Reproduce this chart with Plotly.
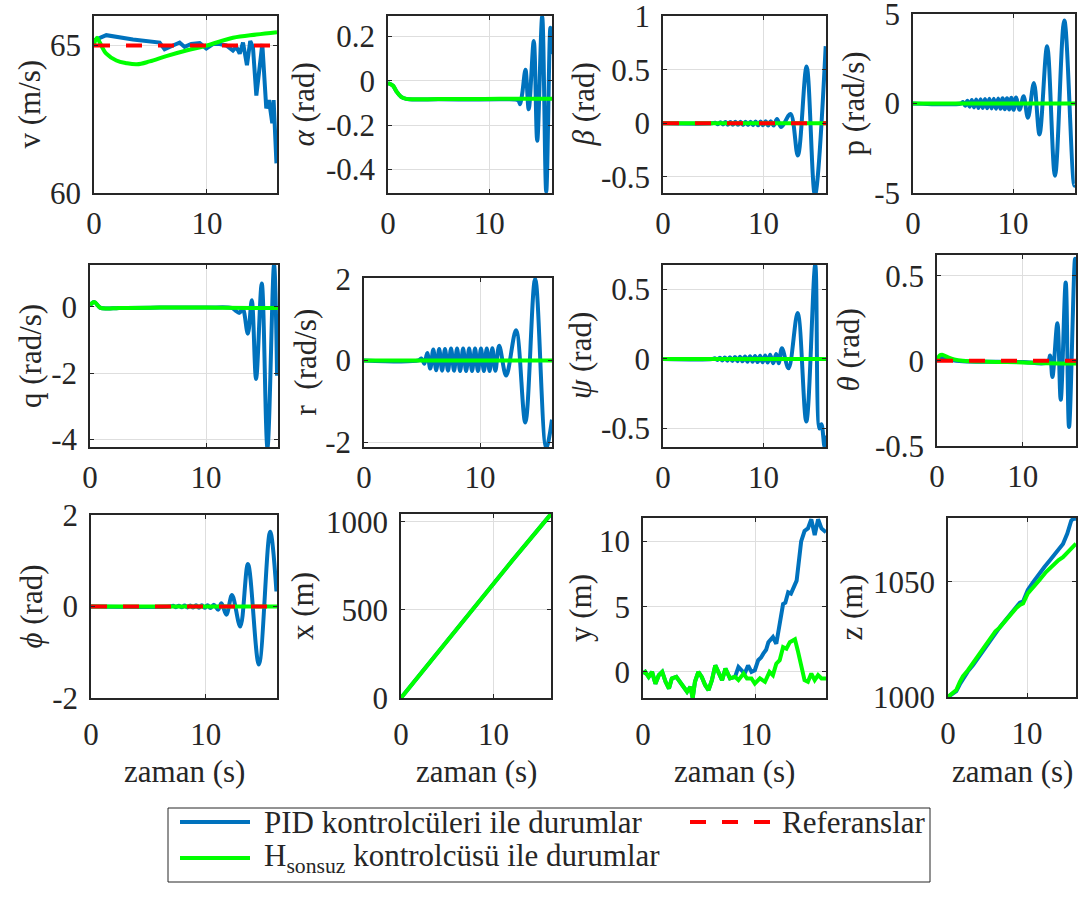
import plotly.graph_objects as go

W, H = 1084, 900
BLUE, GREEN, RED = "#0072BD", "#00FF00", "#FF0000"
INK = "#262626"
GRID = "#dedede"
FONT = "Liberation Serif"
FS = 31
T_END = 16.2

# ---------------- state histories: (time [s], value) ----------------
# airspeed v (m/s)
v_pid = [(0, 65.17), (1.09, 65.35), (3.45, 65.2), (5.81, 65.1), (6.25, 64.87), (7.0, 65.0),
         (7.58, 65.1), (8.02, 64.95), (8.61, 65.05), (9.35, 65.08), (9.94, 64.9), (10.53, 65.05),
         (11.12, 65.05), (11.71, 65.0), (12.3, 64.83), (12.6, 64.95), (12.9, 64.72), (13.19, 65.1),
         (13.54, 64.33), (13.83, 65.15), (14.07, 64.95), (14.37, 63.3), (14.66, 64.3), (14.9, 65.05),
         (15.25, 62.87), (15.49, 63.15), (15.78, 62.36), (15.9, 63.15), (16.15, 61.0)]
v_hinf = [(0, 65.05), (0.27, 65.26), (0.5, 65.11), (1.09, 64.72), (1.98, 64.49), (2.86, 64.4),
          (3.8, 64.36), (4.93, 64.46), (6.4, 64.64), (8.17, 64.83), (10.0, 65.0), (12.3, 65.26),
          (14.37, 65.37), (16.2, 65.45)]
v_ref = 65

# angle of attack alpha (rad)
alpha_pid = [(0, -0.01), (0.5, -0.022), (0.83, -0.047), (1.3, -0.072), (1.8, -0.081), (2.5, -0.084),
             (5, -0.083), (8, -0.084), (11, -0.083), (12.6, -0.084), (12.9, -0.09), (13.05, -0.105),
             (13.25, -0.06), (13.58, 0.05), (13.9, -0.128), (14.4, 0.18), (14.74, -0.27), (15.23, 0.29),
             (15.63, -0.50), (16.04, 0.24), (16.2, 0.12)]
alpha_hinf = [(0, -0.01), (0.5, -0.022), (0.83, -0.047), (1.3, -0.072), (1.8, -0.081), (2.5, -0.083),
              (5, -0.082), (8, -0.082), (11, -0.081), (14, -0.081), (16.2, -0.08)]

# sideslip beta (rad)
beta_pid = [(0, 0), (4.9, 0), (5.2, 0.006), (5.45, -0.008), (5.7, 0.01), (5.95, -0.01), (6.2, 0.012),
            (6.45, -0.012), (6.7, 0.013), (6.95, -0.013), (7.2, 0.014), (7.45, -0.014), (7.7, 0.015),
            (7.95, -0.015), (8.2, 0.016), (8.45, -0.016), (8.7, 0.016), (8.95, -0.017), (9.2, 0.017),
            (9.45, -0.018), (9.7, 0.018), (9.95, -0.018), (10.2, 0.019), (10.45, -0.02), (10.7, 0.02),
            (11.0, -0.02), (11.33, 0.04), (11.75, -0.035), (12.67, 0.088), (13.4, -0.3), (14.27, 0.53),
            (15.1, -0.67), (16.17, 0.72)]
beta_hinf = [(0, 0), (16.2, 0)]
beta_ref = 0

# roll rate p (rad/s)
p_pid = [(0, 0), (4.8, 0), (5.0, 0.08), (5.22, -0.12), (5.44, 0.15), (5.66, -0.18), (5.88, 0.2),
         (6.1, -0.22), (6.32, 0.22), (6.54, -0.25), (6.76, 0.24), (6.98, -0.25), (7.2, 0.25),
         (7.42, -0.27), (7.64, 0.26), (7.86, -0.28), (8.08, 0.27), (8.3, -0.3), (8.52, 0.28),
         (8.74, -0.3), (8.96, 0.3), (9.18, -0.32), (9.4, 0.3), (9.62, -0.33), (9.84, 0.32),
         (10.06, -0.35), (10.3, 0.33), (10.66, -0.35), (11.06, 0.41), (11.49, -0.8), (12.09, 1.15),
         (12.65, -1.73), (13.41, 3.2), (14.2, -4.05), (15.13, 4.65), (16.13, -4.6), (16.2, -4.55)]
p_hinf = [(0, 0), (16.2, 0)]

# pitch rate q (rad/s)
q_pid = [(0, 0.05), (0.37, 0.15), (0.86, -0.02), (1.45, -0.05), (2.5, -0.03), (6, -0.02), (10, -0.02),
         (12.2, -0.03), (12.5, -0.1), (12.87, -0.18), (13.16, -0.05), (13.6, -0.81), (13.94, 0.2),
         (14.31, -2.18), (14.8, 0.71), (15.29, -4.26), (15.86, 1.27), (16.12, -2.08)]
q_hinf = [(0, 0.05), (0.37, 0.15), (0.86, -0.02), (1.45, -0.05), (2.5, -0.03), (6, -0.02), (10, -0.02),
          (14, -0.03), (16.2, -0.03)]

# yaw rate r (rad/s)
r_pid = [(0, 0), (4.7, 0), (4.95, 0.05), (5.2, -0.08), (5.45, 0.18), (5.71, -0.2), (5.97, 0.27),
         (6.22, -0.24), (6.48, 0.28), (6.73, -0.25), (6.98, 0.28), (7.24, -0.25), (7.5, 0.29),
         (7.76, -0.25), (8.02, 0.29), (8.28, -0.26), (8.54, 0.29), (8.8, -0.26), (9.06, 0.29),
         (9.31, -0.26), (9.57, 0.29), (9.82, -0.26), (10.08, 0.29), (10.33, -0.26), (10.58, 0.29),
         (10.82, -0.26), (11.06, 0.3), (11.32, -0.25), (11.65, 0.36), (12.25, -0.37), (13.1, 0.74),
         (13.9, -1.52), (14.75, 2.0), (15.7, -2.14), (16.2, -1.45)]
r_hinf = [(0, 0), (16.2, 0)]

# heading psi (rad)
psi_pid = [(0, 0), (4.9, 0), (5.15, 0.005), (5.4, -0.007), (5.65, 0.009), (5.9, -0.01), (6.15, 0.011),
           (6.4, -0.012), (6.65, 0.013), (6.9, -0.014), (7.15, 0.015), (7.4, -0.016), (7.65, 0.017),
           (7.9, -0.017), (8.15, 0.018), (8.4, -0.019), (8.65, 0.02), (8.9, -0.02), (9.15, 0.021),
           (9.4, -0.022), (9.65, 0.023), (9.9, -0.024), (10.15, 0.025), (10.4, -0.026), (10.65, 0.03),
           (10.95, -0.03), (11.25, 0.035), (11.5, -0.03), (11.82, 0.077), (12.48, -0.067), (13.38, 0.33),
           (14.24, -0.45), (15.13, 0.675), (15.55, -0.5), (15.75, -0.47), (16.05, -0.63), (16.2, -0.55)]
psi_hinf = [(0, 0), (16.2, 0)]

# pitch angle theta (rad)
theta_pid = [(0, 0), (0.5, 0.018), (1.5, 0.006), (3, -0.003), (7, -0.006), (10, -0.008), (12.9, -0.01),
             (13.18, 0.03), (13.45, -0.096), (14.03, 0.22), (14.42, -0.23), (15.0, 0.46), (15.39, -0.39),
             (16.09, 0.6), (16.2, 0.55)]
theta_hinf = [(0, 0), (0.3, 0.03), (0.6, 0.035), (1.2, 0.022), (2, 0.008), (3, 0.0), (6, -0.006),
              (10, -0.01), (13, -0.015), (16.2, -0.016)]
theta_ref = 0

# roll angle phi (rad)
phi_pid = [(0, 0), (6.9, 0), (7.15, 0.015), (7.4, -0.015), (7.65, 0.018), (7.9, -0.018), (8.15, 0.02),
           (8.4, -0.02), (8.65, 0.022), (8.9, -0.022), (9.15, 0.025), (9.4, -0.025), (9.65, 0.028),
           (9.9, -0.03), (10.15, 0.03), (10.4, -0.035), (10.7, 0.04), (11.07, -0.07), (11.36, 0.07),
           (11.79, -0.18), (12.28, 0.25), (13.0, -0.44), (13.67, 0.93), (14.62, -1.27), (15.6, 1.64),
           (16.15, 0.33)]
phi_hinf = [(0, 0), (16.2, 0)]
phi_ref = 0

# position x, y, z (m)
x_pid = [(0, 0), (4, 262), (8, 522), (12, 779), (16.2, 1045)]
x_hinf = [(0, 0), (4, 262), (8, 522), (12, 779), (16.2, 1045)]

y_pid = [(0, -0.13), (0.2, 0), (0.5, -0.38), (0.8, 0), (1.1, -0.9), (1.4, -0.25), (1.7, 0), (2.0, -0.76),
         (2.3, -1.27), (2.55, -0.5), (2.95, -0.38), (3.3, -0.76), (3.6, -1.14), (3.9, -1.52), (4.2, -1.14),
         (4.4, -2.0), (4.6, -0.76), (4.9, 0), (5.2, -0.38), (5.5, -1.0), (5.8, -1.4), (6.1, -0.63),
         (6.4, 0.5), (6.7, 0), (7.0, -0.63), (7.3, 0.25), (7.7, -0.5), (8.15, -0.38), (8.45, 0.38),
         (9.0, -0.13), (9.3, 0.5), (9.6, 0), (9.9, 0.13), (10.2, 0.9), (10.45, 1.1), (10.65, 1.4),
         (10.9, 1.7), (11.1, 2.28), (11.5, 2.67), (11.8, 2.16), (12.1, 3.9), (12.4, 5.2), (12.6, 5.3),
         (12.85, 6.1), (13.1, 6.0), (13.3, 6.35), (13.6, 7.0), (14.0, 10.0), (14.3, 10.8), (14.6, 11.0),
         (14.9, 11.7), (15.2, 10.5), (15.5, 11.7), (15.8, 11.0), (16.2, 10.7)]
y_hinf = [(0, -0.13), (0.2, 0), (0.5, -0.38), (0.8, 0), (1.1, -0.9), (1.4, -0.25), (1.7, 0), (2.0, -0.76),
          (2.3, -1.27), (2.55, -0.5), (2.95, -0.38), (3.3, -0.76), (3.6, -1.14), (3.9, -1.52), (4.2, -1.14),
          (4.4, -2.0), (4.6, -0.76), (4.9, 0), (5.2, -0.38), (5.5, -1.0), (5.8, -1.4), (6.1, -0.63),
          (6.4, 0.5), (6.7, 0), (7.0, -0.63), (7.3, 0.25), (7.7, -0.5), (8.15, -0.38), (8.45, -0.63),
          (8.9, -0.13), (9.2, -0.5), (9.6, -0.5), (9.9, -0.9), (10.35, -0.5), (10.8, -0.76), (11.2, 0),
          (11.5, -0.25), (11.8, 0.63), (12.1, 0.9), (12.4, 1.9), (12.7, 1.78), (13.0, 2.28), (13.45, 2.5),
          (13.7, 1.65), (14.0, 0.63), (14.3, -0.63), (14.6, -0.76), (14.9, -0.13), (15.2, -0.63),
          (15.5, -0.25), (15.8, -0.5), (16.2, -0.5)]

z_pid = [(0, 1000), (0.5, 1001), (1.05, 1002.5), (1.5, 1005.5), (1.9, 1008), (2.5, 1011), (3.2, 1014),
         (4.0, 1018), (4.6, 1021), (5.3, 1024.5), (6.0, 1028), (6.5, 1030), (7.2, 1033), (8.0, 1036.5),
         (8.6, 1039), (9.1, 1041), (9.5, 1041.5), (10.1, 1046.5), (10.8, 1050), (11.5, 1053.5),
         (12.2, 1056.5), (12.9, 1059.4), (13.6, 1062.5), (14.55, 1066.5), (15.1, 1071), (15.6, 1076.7),
         (15.9, 1077.6), (16.2, 1077.4)]
z_hinf = [(0, 1000), (0.5, 1001.5), (1.05, 1003), (1.5, 1006.5), (1.9, 1009), (2.5, 1011.5), (3.2, 1015),
          (4.0, 1019), (4.6, 1021.5), (5.3, 1025), (6.0, 1028.5), (6.5, 1030), (7.2, 1033), (8.0, 1036.5),
          (8.6, 1038.5), (9.1, 1040), (9.5, 1040.6), (10.1, 1045), (10.8, 1047.5), (11.5, 1050.5),
          (12.4, 1054.3), (13.2, 1057), (14.0, 1059.5), (14.55, 1060.8), (15.3, 1063.5), (16.2, 1066.6)]

# ---------------- axis ticks ----------------
x_ticks = [0, 10]
x_ticktext = ["0", "10"]
y_ticks = {
    "v": ([60, 65], ["60", "65"]),
    "alpha": ([-0.4, -0.2, 0, 0.2], ["-0.4", "-0.2", "0", "0.2"]),
    "beta": ([-0.5, 0, 0.5, 1], ["-0.5", "0", "0.5", "1"]),
    "p": ([-5, 0, 5], ["-5", "0", "5"]),
    "q": ([-4, -2, 0], ["-4", "-2", "0"]),
    "r": ([-2, 0, 2], ["-2", "0", "2"]),
    "psi": ([-0.5, 0, 0.5], ["-0.5", "0", "0.5"]),
    "theta": ([-0.5, 0, 0.5], ["-0.5", "0", "0.5"]),
    "phi": ([-2, 0, 2], ["-2", "0", "2"]),
    "x": ([0, 500, 1000], ["0", "500", "1000"]),
    "y": ([0, 5, 10], ["0", "5", "10"]),
    "z": ([1000, 1050], ["1000", "1050"]),
}

# ---------------- panel layout ----------------
panels = [
    dict(key="v", label="v (m/s)", pid=v_pid, hinf=v_hinf, ref=v_ref, yr=[59.995, 66], smooth=False),
    dict(key="alpha", label="<i>α</i> (rad)", pid=alpha_pid, hinf=alpha_hinf, ref=None, yr=[-0.506, 0.293], smooth=True),
    dict(key="beta", label="<i>β</i> (rad)", pid=beta_pid, hinf=beta_hinf, ref=beta_ref, yr=[-0.65, 1.002], smooth=True),
    dict(key="p", label="p (rad/s)", pid=p_pid, hinf=p_hinf, ref=None, yr=[-5.01, 5.01], smooth=True),
    dict(key="q", label="q (rad/s)", pid=q_pid, hinf=q_hinf, ref=None, yr=[-4.24, 1.27], smooth=True),
    dict(key="r", label="r  (rad/s)", pid=r_pid, hinf=r_hinf, ref=None, yr=[-2.12, 2.02], smooth=True),
    dict(key="psi", label="<i>ψ</i> (rad)", pid=psi_pid, hinf=psi_hinf, ref=None, yr=[-0.633, 0.676], smooth=True),
    dict(key="theta", label="<i>θ</i> (rad)", pid=theta_pid, hinf=theta_hinf, ref=theta_ref, yr=[-0.502, 0.622], smooth=True),
    dict(key="phi", label="<i>ϕ</i> (rad)", pid=phi_pid, hinf=phi_hinf, ref=phi_ref, yr=[-2.005, 2.005], smooth=True),
    dict(key="x", label="x (m)", pid=x_pid, hinf=x_hinf, ref=None, yr=[-0.5, 1045], smooth=False),
    dict(key="y", label="y (m)", pid=y_pid, hinf=y_hinf, ref=None, yr=[-2.0, 11.8], smooth=False),
    dict(key="z", label="z (m)", pid=z_pid, hinf=z_hinf, ref=None, yr=[999.95, 1077.8], smooth=False),
]

# plot boxes in pixels: left, right, top, bottom
boxes = [(94, 277, 16, 193), (388, 552, 16, 193), (663, 826, 16, 193), (913, 1075, 14, 193),
         (90, 278, 265, 447), (364, 552, 278, 447), (663, 826, 265, 447), (937, 1076, 255, 446),
         (91, 277, 515, 698), (401, 551, 514, 698), (643, 826, 518, 698), (948, 1076, 518, 697)]
ylabel_x = [29, 303, 583, 853, 30, 305, 580, 848, 31, 302, 580, 851]


def px(x):
    return x / W


def py(y):
    return 1 - y / H


def unzip(pairs):
    return [a for a, _ in pairs], [b for _, b in pairs]


fig = go.Figure()
annotations = []
layout_axes = {}

for i, (pn, box) in enumerate(zip(panels, boxes), start=1):
    xa = "x" if i == 1 else f"x{i}"
    ya = "y" if i == 1 else f"y{i}"
    l, r, t, b = box
    pid_shape = "spline" if pn["smooth"] else "linear"
    hinf_shape = "linear" if pn["key"] in ("x", "y", "z") else "spline"

    tx, vx = unzip(pn["pid"])
    fig.add_trace(go.Scatter(x=tx, y=vx, xaxis=xa, yaxis=ya, mode="lines", showlegend=False,
                             line=dict(color=BLUE, width=4, shape=pid_shape), hoverinfo="skip"))
    tx, vx = unzip(pn["hinf"])
    fig.add_trace(go.Scatter(x=tx, y=vx, xaxis=xa, yaxis=ya, mode="lines", showlegend=False,
                             line=dict(color=GREEN, width=4, shape=hinf_shape), hoverinfo="skip"))
    if pn["ref"] is not None:
        fig.add_trace(go.Scatter(x=[0, T_END], y=[pn["ref"], pn["ref"]], xaxis=xa, yaxis=ya, mode="lines",
                                 showlegend=False, line=dict(color=RED, width=4, dash="16px,16px"),
                                 hoverinfo="skip"))

    yt, ytt = y_ticks[pn["key"]]
    common = dict(showline=True, linecolor=INK, linewidth=1.5, mirror="ticks", ticks="inside",
                  ticklen=4, tickcolor=INK, showgrid=True, gridcolor=GRID, gridwidth=1,
                  zeroline=False, automargin=False, ticklabeloverflow="allow",
                  tickfont=dict(family=FONT, size=FS, color=INK))
    layout_axes["xaxis" if i == 1 else f"xaxis{i}"] = dict(
        domain=[px(l), px(r)], anchor=ya, range=[0, T_END], tickvals=x_ticks, ticktext=x_ticktext,
        ticklabelstandoff=(8 if i >= 9 else 2), **common)
    layout_axes["yaxis" if i == 1 else f"yaxis{i}"] = dict(
        domain=[py(b), py(t)], anchor=xa, range=pn["yr"], tickvals=yt, ticktext=ytt,
        ticklabelstandoff=5, **common)

    annotations.append(dict(text=pn["label"], x=px(ylabel_x[i - 1]), y=py((t + b) / 2), xref="paper",
                            yref="paper", textangle=-90, showarrow=False, xanchor="center",
                            yanchor="middle", font=dict(family=FONT, size=FS, color=INK)))
    if i >= 9:
        annotations.append(dict(text="zaman (s)", x=px((l + r) / 2), y=py(771), xref="paper",
                                yref="paper", showarrow=False, xanchor="center", yanchor="middle",
                                font=dict(family=FONT, size=FS, color=INK)))

# legend box
shapes = [
    dict(type="rect", xref="paper", yref="paper", x0=px(168), x1=px(930), y0=py(882), y1=py(808),
         line=dict(color=INK, width=1), fillcolor="white"),
    dict(type="line", xref="paper", yref="paper", x0=px(180), x1=px(250), y0=py(822), y1=py(822),
         line=dict(color=BLUE, width=4)),
    dict(type="line", xref="paper", yref="paper", x0=px(690), x1=px(772), y0=py(822), y1=py(822),
         line=dict(color=RED, width=4, dash="16px,16px")),
    dict(type="line", xref="paper", yref="paper", x0=px(180), x1=px(250), y0=py(858), y1=py(858),
         line=dict(color=GREEN, width=4)),
]
legend_items = [
    ("PID kontrolcüleri ile durumlar", 262, 822),
    ("Referanslar", 780, 822),
    ("H<sub>sonsuz</sub> kontrolcüsü ile durumlar", 262, 858),
]
for text, lx, ly in legend_items:
    annotations.append(dict(text=text, x=px(lx), y=py(ly), xref="paper", yref="paper", showarrow=False,
                            xanchor="left", yanchor="middle", font=dict(family=FONT, size=FS, color=INK)))

fig.update_layout(width=W, height=H, margin=dict(l=0, r=0, t=0, b=0, autoexpand=False),
                  paper_bgcolor="white", plot_bgcolor="white", annotations=annotations, shapes=shapes,
                  **layout_axes)

fig.write_html("out.html")
